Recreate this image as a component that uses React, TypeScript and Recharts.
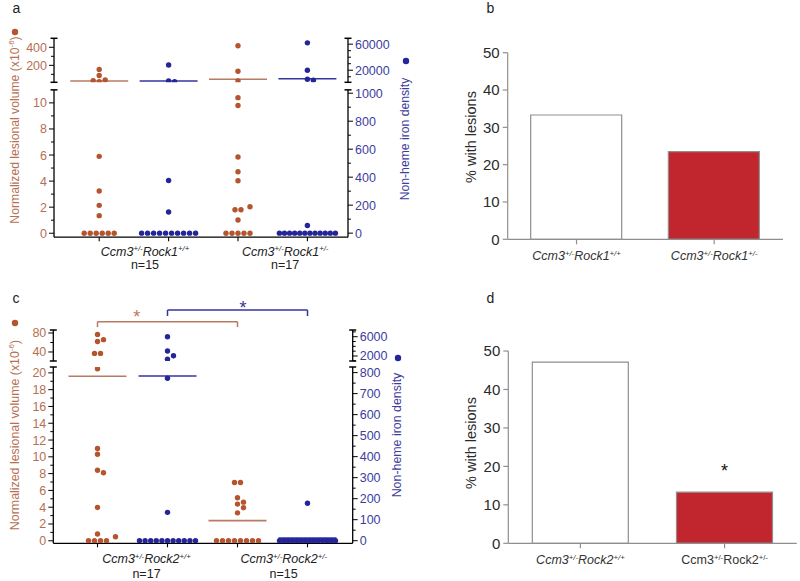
import React from 'react';
import {
  ScatterChart,
  Scatter,
  XAxis,
  YAxis,
  ReferenceLine,
  ReferenceDot,
  BarChart,
  Bar,
  Cell,
  LabelList,
} from 'recharts';

const FONT = '"Liberation Sans", Arial, Helvetica, sans-serif';
const ORANGE = '#B5552F';
const BLUE = '#25259A';
const ORANGE_TEXT = '#B66F52';
const BLUE_TEXT = '#3D3D9E';
const ORANGE_MEAN = '#B87A64';
const BLUE_MEAN = '#3535A0';
const RED = '#C1252E';
const GRAY_AXIS = '#8f8f8f';

// panel a — Rock1 cohort (lesion volume, non-heme iron)
const A_GENOTYPES = ['Ccm3+/-Rock1+/+', 'Ccm3+/-Rock1+/-'];
const A_N = ['n=15', 'n=17'];
const A_VOL_WT = [155, 87, 38, 30, 19, 5.9, 3.24, 2.14, 1.35, 0, 0, 0, 0, 0, 0];
const A_VOL_HET = [418, 134, 26, 10.4, 9.8, 5.85, 4.72, 4.03, 2.03, 1.8, 1.8, 1.02, 0, 0, 0, 0, 0];
const A_IRON_WT = [28000, 3500, 2400, 376, 151, 0, 0, 0, 0, 0, 0, 0, 0, 0, 0];
const A_IRON_HET = [62000, 20000, 6100, 4570, 55, 0, 0, 0, 0, 0, 0, 0, 0, 0, 0, 0, 0];
const A_VOL_MEAN = [26, 45];
const A_IRON_MEAN = [3500, 7000];
const A_VOL_TICKS_UP = [200, 400];
const A_VOL_MINOR_UP = [100, 300];
const A_IRON_TICKS_UP = [20000, 60000];
const A_IRON_MINOR_UP = [10000, 30000, 40000, 50000];
const A_VOL_TICKS_LOW = [0, 2, 4, 6, 8, 10];
const A_VOL_MINOR_LOW = [1, 3, 5, 7, 9];
const A_IRON_TICKS_LOW = [0, 200, 400, 600, 800, 1000];
const A_IRON_MINOR_LOW = [100, 300, 500, 700, 900];

// panel c — Rock2 cohort
const C_GENOTYPES = ['Ccm3+/-Rock2+/+', 'Ccm3+/-Rock2+/-'];
const C_N = ['n=17', 'n=15'];
const C_VOL_WT = [77, 66, 62, 37, 37, 20.5, 11.0, 10.3, 8.4, 8.1, 3.97, 0.8, 0.48, 0, 0, 0, 0];
const C_VOL_HET = [6.95, 6.95, 5.12, 4.6, 4.37, 3.93, 3.33, 0, 0, 0, 0, 0, 0, 0, 0];
const C_IRON_WT = [6000, 3040, 2060, 1320, 773, 135, 0, 0, 0, 0, 0, 0, 0, 0, 0, 0, 0];
const C_IRON_HET = [178, 0, 0, 0, 0, 0, 0, 0, 0, 0, 0, 0, 0, 0, 0];
const C_VOL_MEAN = [19.6, 2.4];
const C_IRON_MEAN = [784, 12];
const C_VOL_TICKS_UP = [40, 80];
const C_VOL_MINOR_UP = [60];
const C_IRON_TICKS_UP = [2000, 6000];
const C_IRON_MINOR_UP = [1000, 3000, 4000, 5000, 7000];
const C_VOL_TICKS_LOW = [0, 2, 4, 6, 8, 10, 12, 14, 16, 18, 20];
const C_VOL_MINOR_LOW = [1, 3, 5, 7, 9, 11, 13, 15, 17, 19];
const C_IRON_TICKS_LOW = [0, 100, 200, 300, 400, 500, 600, 700, 800];
const C_IRON_MINOR_LOW = [50, 150, 250, 350, 450, 550, 650, 750];

// panels b, d — % with lesions
const B_GENOTYPES = ['Ccm3+/-Rock1+/+', 'Ccm3+/-Rock1+/-'];
const B_PCT = [33.3, 23.5];
const D_GENOTYPES = ['Ccm3+/-Rock2+/+', 'Ccm3+/-Rock2+/-'];
const D_PCT = [47.1, 13.3];
const D_SIG = ['', '*'];
const PCT_TICKS = [0, 10, 20, 30, 40, 50];

// group slots on the dot plots: volume at 1,3 and iron at 2,4
const VOL_X = [1, 3];
const IRON_X = [2, 4];
const DOT_R = 2.7;
const SPACING = 6;
const MAX_ROW = 56;

type Key = 'vol' | 'iron';
type Seg = {
  top: number;
  bottom: number;
  vol: [number, number];
  iron: [number, number];
  volTicks: number[];
  volMinor: number[];
  ironTicks: number[];
  ironMinor: number[];
};
type Bracket = { axis: Key; x1: number; x2: number; y: number; yEnd: number; color: string; starX: number; starY: number };
type DotCfg = {
  top: number;
  bottom: number;
  plotLeft: number;
  plotRight: number;
  x0: number;
  pxPerX: number;
  up: Seg;
  low: Seg;
  vol: number[][];
  iron: number[][];
  volMean: number[];
  ironMean: number[];
  genotypes: string[];
  ns: string[];
  labelX: number[];
  labelDy: [number, number];
  brackets?: Bracket[];
};

const PANEL_A: DotCfg = {
  top: 0,
  bottom: 285,
  plotLeft: 54,
  plotRight: 348,
  x0: 29.8,
  pxPerX: 69.4,
  up: {
    top: 38.3, bottom: 82.3, vol: [12, 500], iron: [1500, 69000],
    volTicks: A_VOL_TICKS_UP, volMinor: A_VOL_MINOR_UP, ironTicks: A_IRON_TICKS_UP, ironMinor: A_IRON_MINOR_UP,
  },
  low: {
    top: 90, bottom: 237.3, vol: [-0.3, 11], iron: [-28.6, 1024],
    volTicks: A_VOL_TICKS_LOW, volMinor: A_VOL_MINOR_LOW, ironTicks: A_IRON_TICKS_LOW, ironMinor: A_IRON_MINOR_LOW,
  },
  vol: [A_VOL_WT, A_VOL_HET],
  iron: [A_IRON_WT, A_IRON_HET],
  volMean: A_VOL_MEAN,
  ironMean: A_IRON_MEAN,
  genotypes: A_GENOTYPES,
  ns: A_N,
  labelX: [1.66, 3.68],
  labelDy: [18.5, 32],
};

const PANEL_C: DotCfg = {
  top: 292,
  bottom: 581,
  plotLeft: 53.3,
  plotRight: 352.7,
  x0: 27.5,
  pxPerX: 70,
  up: {
    top: 330, bottom: 361, vol: [21, 86.3], iron: [960, 7390],
    volTicks: C_VOL_TICKS_UP, volMinor: C_VOL_MINOR_UP, ironTicks: C_IRON_TICKS_UP, ironMinor: C_IRON_MINOR_UP,
  },
  low: {
    top: 367, bottom: 543.3, vol: [-0.3, 20.7], iron: [-12.4, 826.7],
    volTicks: C_VOL_TICKS_LOW, volMinor: C_VOL_MINOR_LOW, ironTicks: C_IRON_TICKS_LOW, ironMinor: C_IRON_MINOR_LOW,
  },
  vol: [C_VOL_WT, C_VOL_HET],
  iron: [C_IRON_WT, C_IRON_HET],
  volMean: C_VOL_MEAN,
  ironMean: C_IRON_MEAN,
  genotypes: C_GENOTYPES,
  ns: C_N,
  labelX: [1.7, 3.66],
  labelDy: [20, 35],
  brackets: [
    { axis: 'vol', x1: 1, x2: 3, y: 103.8, yEnd: 92.6, color: ORANGE_MEAN, starX: 1.56, starY: 113.9 },
    { axis: 'iron', x1: 2, x2: 4, y: 11538, yEnd: 10294, color: BLUE_MEAN, starX: 3.08, starY: 11974 },
  ],
};

const segPx = (s: Seg, key: Key, v: number) => {
  const [d0, d1] = s[key];
  return s.bottom - ((v - d0) / (d1 - d0)) * (s.bottom - s.top);
};
const valuePx = (cfg: DotCfg, key: Key, v: number) =>
  v > cfg.low[key][1] ? segPx(cfg.up, key, v) : segPx(cfg.low, key, v);

// simple beeswarm: rows of equal values centred, remaining points nudged sideways
function swarm(values: number[], center: number, cfg: DotCfg, key: Key) {
  const counts = new Map<number, number>();
  values.forEach((v) => counts.set(v, (counts.get(v) || 0) + 1));
  const placed: { v: number; py: number; ox: number }[] = [];
  counts.forEach((n, v) => {
    if (n < 2) return;
    const s = Math.min(SPACING, MAX_ROW / (n - 1));
    for (let i = 0; i < n; i++) placed.push({ v, py: valuePx(cfg, key, v), ox: (i - (n - 1) / 2) * s });
  });
  const singles = [...counts].filter(([, n]) => n === 1).map(([v]) => v).sort((a, b) => b - a);
  singles.forEach((v) => {
    const py = valuePx(cfg, key, v);
    for (let k = 0; k < 40; k++) {
      const ox = k === 0 ? 0 : (k % 2 ? 1 : -1) * Math.ceil(k / 2) * SPACING;
      if (placed.every((p) => Math.hypot(p.ox - ox, p.py - py) >= SPACING * 0.93)) {
        placed.push({ v, py, ox });
        break;
      }
    }
  });
  return placed.map((p) => ({ x: center + p.ox / cfg.pxPerX, y: p.v }));
}

function GenoText({ x, y, label, italic, size, fill }: any) {
  const parts = label.split(/([+-]\/[+-])/).filter(Boolean);
  return (
    <text x={x} y={y} textAnchor="middle" fontStyle={italic ? 'italic' : 'normal'} fontSize={size} fontFamily={FONT} fill={fill}>
      {parts.map((p: string, i: number) =>
        /^[+-]\/[+-]$/.test(p) ? (
          <tspan key={i} dy={-size * 0.38} fontSize={size * 0.62}>{p}</tspan>
        ) : (
          <tspan key={i} dy={i === 0 ? 0 : size * 0.38}>{p}</tspan>
        ),
      )}
    </text>
  );
}

const yTick = (side: 'left' | 'right', color: string, labels: number[], caps: number[]) => (p: any) => {
  const v = p.payload.value;
  const ax = p.x;
  const y = p.y;
  const d = side === 'left' ? -1 : 1;
  if (caps.includes(v)) {
    return <line x1={ax - 3.5} x2={ax + 3.5} y1={y} y2={y} stroke="#000" strokeWidth={1.5} />;
  }
  const major = labels.includes(v);
  return (
    <g>
      <line x1={ax} x2={ax + d * (major ? 5 : 3)} y1={y} y2={y} stroke="#000" strokeWidth={1} />
      {major && (
        <text x={ax + d * 7} y={y} dy="0.36em" textAnchor={side === 'left' ? 'end' : 'start'} fontSize={12.5} fontFamily={FONT} fill={color}>
          {v}
        </text>
      )}
    </g>
  );
};

const dotShape = (fill: string) => (p: any) => <circle cx={p.cx} cy={p.cy} r={DOT_R} fill={fill} />;

function Segment({ cfg, seg, isLow, divTop, divBottom, volPts, ironPts }: any) {
  const W = 440;
  const h = divBottom - divTop;
  const xDomain = [(cfg.plotLeft - cfg.x0) / cfg.pxPerX, (cfg.plotRight - cfg.x0) / cfg.pxPerX];
  const volCaps = isLow ? [seg.vol[1]] : [seg.vol[0], seg.vol[1]];
  const ironCaps = isLow ? [seg.iron[1]] : [seg.iron[0], seg.iron[1]];
  const inSeg = (key: Key, v: number) => v >= seg[key][0] && v <= seg[key][1];
  const half = 29 / cfg.pxPerX;
  const xTicks = [1, 2, 3, 4, ...cfg.labelX].sort((a: number, b: number) => a - b);

  const xTick = (p: any) => {
    const li = cfg.labelX.indexOf(p.payload.value);
    if (li < 0) return <line x1={p.x} x2={p.x} y1={p.y} y2={p.y + 4} stroke="#000" strokeWidth={1.1} />;
    return (
      <g>
        <GenoText x={p.x} y={p.y + cfg.labelDy[0]} label={cfg.genotypes[li]} italic size={12.5} fill="#222" />
        <text x={p.x} y={p.y + cfg.labelDy[1]} textAnchor="middle" fontSize={12.5} fontFamily={FONT} fill="#222">
          {cfg.ns[li]}
        </text>
      </g>
    );
  };

  return (
    <div style={{ position: 'absolute', left: 0, top: divTop, width: W, height: h }}>
      <ScatterChart
        width={W}
        height={h}
        margin={{ top: seg.top - divTop, right: 0, bottom: isLow ? 0 : divBottom - seg.bottom, left: 0 }}
        style={{ fontFamily: FONT }}
      >
        <XAxis
          type="number"
          dataKey="x"
          domain={xDomain}
          allowDataOverflow
          hide={!isLow}
          height={isLow ? divBottom - seg.bottom : 0}
          ticks={xTicks}
          interval={0}
          tick={xTick}
          tickSize={0}
          tickMargin={0}
          tickLine={false}
          axisLine={{ stroke: '#000', strokeWidth: 1.3 }}
        />
        <YAxis
          yAxisId="vol"
          type="number"
          dataKey="y"
          domain={seg.vol}
          allowDataOverflow
          width={cfg.plotLeft}
          ticks={[...seg.volMinor, ...seg.volTicks, ...volCaps]}
          interval={0}
          tick={yTick('left', ORANGE_TEXT, seg.volTicks, volCaps)}
          tickSize={0}
          tickMargin={0}
          tickLine={false}
          axisLine={{ stroke: '#000', strokeWidth: 1.3 }}
        />
        <YAxis
          yAxisId="iron"
          orientation="right"
          type="number"
          dataKey="y"
          domain={seg.iron}
          allowDataOverflow
          width={W - cfg.plotRight}
          ticks={[...seg.ironMinor, ...seg.ironTicks, ...ironCaps]}
          interval={0}
          tick={yTick('right', BLUE_TEXT, seg.ironTicks, ironCaps)}
          tickSize={0}
          tickMargin={0}
          tickLine={false}
          axisLine={{ stroke: '#000', strokeWidth: 1.3 }}
        />
        {cfg.volMean.map((m: number, i: number) =>
          inSeg('vol', m) ? (
            <ReferenceLine
              key={'vm' + i}
              yAxisId="vol"
              segment={[{ x: VOL_X[i] - half, y: m }, { x: VOL_X[i] + half, y: m }]}
              stroke={ORANGE_MEAN}
              strokeWidth={1.6}
              ifOverflow="visible"
            />
          ) : null,
        )}
        {cfg.ironMean.map((m: number, i: number) =>
          inSeg('iron', m) ? (
            <ReferenceLine
              key={'im' + i}
              yAxisId="iron"
              segment={[{ x: IRON_X[i] - half, y: m }, { x: IRON_X[i] + half, y: m }]}
              stroke={BLUE_MEAN}
              strokeWidth={1.6}
              ifOverflow="visible"
            />
          ) : null,
        )}
        <Scatter yAxisId="vol" data={volPts} fill={ORANGE} shape={dotShape(ORANGE)} isAnimationActive={false} />
        <Scatter yAxisId="iron" data={ironPts} fill={BLUE} shape={dotShape(BLUE)} isAnimationActive={false} />
        {!isLow &&
          (cfg.brackets || []).map((b: Bracket, i: number) => [
            <ReferenceLine key={'bh' + i} yAxisId={b.axis} segment={[{ x: b.x1, y: b.y }, { x: b.x2, y: b.y }]} stroke={b.color} strokeWidth={1.5} ifOverflow="visible" />,
            <ReferenceLine key={'bl' + i} yAxisId={b.axis} segment={[{ x: b.x1, y: b.y }, { x: b.x1, y: b.yEnd }]} stroke={b.color} strokeWidth={1.5} ifOverflow="visible" />,
            <ReferenceLine key={'br' + i} yAxisId={b.axis} segment={[{ x: b.x2, y: b.y }, { x: b.x2, y: b.yEnd }]} stroke={b.color} strokeWidth={1.5} ifOverflow="visible" />,
            <ReferenceDot
              key={'bs' + i}
              yAxisId={b.axis}
              x={b.starX}
              y={b.starY}
              r={0.01}
              fill="none"
              stroke="none"
              ifOverflow="visible"
              label={{ value: '*', position: 'center', fill: b.color, fontSize: 18, fontFamily: FONT }}
            />,
          ])}
      </ScatterChart>
    </div>
  );
}

function DotPanel({ cfg }: { cfg: DotCfg }) {
  const volPts = cfg.vol.flatMap((vals, i) => swarm(vals, VOL_X[i], cfg, 'vol'));
  const ironPts = cfg.iron.flatMap((vals, i) => swarm(vals, IRON_X[i], cfg, 'iron'));
  const mid = (cfg.up.bottom + cfg.low.top) / 2;
  return (
    <>
      <Segment
        cfg={cfg}
        seg={cfg.up}
        isLow={false}
        divTop={cfg.top}
        divBottom={mid}
        volPts={volPts.filter((p) => p.y > cfg.low.vol[1])}
        ironPts={ironPts.filter((p) => p.y > cfg.low.iron[1])}
      />
      <Segment
        cfg={cfg}
        seg={cfg.low}
        isLow
        divTop={mid}
        divBottom={cfg.bottom}
        volPts={volPts.filter((p) => p.y <= cfg.low.vol[1])}
        ironPts={ironPts.filter((p) => p.y <= cfg.low.iron[1])}
      />
    </>
  );
}

function PctBars({ left, top, width, height, margin, yWidth, genotypes, italic, values, sig, barSize }: any) {
  const data = genotypes.map((g: string, i: number) => ({ name: g, pct: values[i], sig: sig ? sig[i] : '' }));
  const xTick = (p: any) => (
    <GenoText x={p.x} y={p.y + 16} label={p.payload.value} italic={italic[p.index]} size={12.5} fill="#333" />
  );
  return (
    <div style={{ position: 'absolute', left, top, width, height }}>
      <BarChart width={width} height={height} data={data} margin={margin} style={{ fontFamily: FONT }}>
        <XAxis
          dataKey="name"
          axisLine={{ stroke: GRAY_AXIS, strokeWidth: 1.2 }}
          tickLine={{ stroke: GRAY_AXIS, strokeWidth: 1.2 }}
          tickSize={5}
          tickMargin={0}
          tick={xTick}
          interval={0}
          height={30}
        />
        <YAxis
          type="number"
          domain={[0, 50]}
          ticks={PCT_TICKS}
          width={yWidth}
          interval={0}
          axisLine={{ stroke: GRAY_AXIS, strokeWidth: 1.2 }}
          tickLine={{ stroke: GRAY_AXIS, strokeWidth: 1.2 }}
          tickSize={5}
          tickMargin={3}
          tick={{ fill: '#2a2a2a', fontSize: 15, fontFamily: FONT }}
        />
        <Bar dataKey="pct" barSize={barSize} stroke={GRAY_AXIS} strokeWidth={1.2} isAnimationActive={false}>
          {data.map((_: any, i: number) => (
            <Cell key={i} fill={i === 0 ? '#ffffff' : RED} />
          ))}
          {sig && <LabelList dataKey="sig" position="top" offset={15} fill="#111" fontSize={18} fontFamily={FONT} />}
        </Bar>
      </BarChart>
    </div>
  );
}

function VTitle({ x, y, color, size, children }: any) {
  return (
    <text x={x} y={y} transform={`rotate(-90 ${x} ${y})`} textAnchor="middle" dominantBaseline="central" fontSize={size} fontFamily={FONT} fill={color}>
      {children}
    </text>
  );
}

function Overlay() {
  const volTitle = (
    <>
      Normalized lesional volume (x10
      <tspan dy={-4} fontSize={8}>-6</tspan>
      <tspan dy={4}>)</tspan>
    </>
  );
  return (
    <svg width={800} height={581} style={{ position: 'absolute', left: 0, top: 0, pointerEvents: 'none' }}>
      <g fontSize={14} fontFamily={FONT} fill="#222">
        <text x={12.5} y={13.3}>a</text>
        <text x={486.5} y={13.3}>b</text>
        <text x={12.5} y={302.7}>c</text>
        <text x={486.5} y={302.7}>d</text>
      </g>
      <VTitle x={15} y={130} color={ORANGE_TEXT} size={12.2}>{volTitle}</VTitle>
      <circle cx={15} cy={32} r={3.2} fill={ORANGE} />
      <VTitle x={405} y={139} color={BLUE_TEXT} size={12.2}>Non-heme iron density</VTitle>
      <circle cx={406} cy={61} r={3.2} fill={BLUE} />
      <VTitle x={15} y={435} color={ORANGE_TEXT} size={12.4}>{volTitle}</VTitle>
      <circle cx={15} cy={323} r={3.2} fill={ORANGE} />
      <VTitle x={397} y={435} color={BLUE_TEXT} size={12.4}>Non-heme iron density</VTitle>
      <circle cx={398} cy={358} r={3.2} fill={BLUE} />
      <VTitle x={471} y={137} color="#2a2a2a" size={14.5}>% with lesions</VTitle>
      <VTitle x={471} y={443} color="#2a2a2a" size={14.5}>% with lesions</VTitle>
    </svg>
  );
}

export default function App() {
  return (
    <div
      style={{
        position: 'absolute',
        left: 0,
        top: 0,
        width: 800,
        height: 581,
        background: '#fff',
        overflow: 'hidden',
        fontFamily: FONT,
      }}
    >
      <DotPanel cfg={PANEL_A} />
      <DotPanel cfg={PANEL_C} />
      <PctBars
        left={440}
        top={0}
        width={360}
        height={290}
        margin={{ top: 52.7, right: 17, bottom: 20.7, left: 0 }}
        yWidth={67.7}
        genotypes={B_GENOTYPES}
        italic={[true, true]}
        values={B_PCT}
        barSize={91}
      />
      <PctBars
        left={440}
        top={290}
        width={360}
        height={291}
        margin={{ top: 61, right: 3.3, bottom: 7.7, left: 0 }}
        yWidth={68.3}
        genotypes={D_GENOTYPES}
        italic={[true, false]}
        values={D_PCT}
        sig={D_SIG}
        barSize={96}
      />
      <Overlay />
    </div>
  );
}
